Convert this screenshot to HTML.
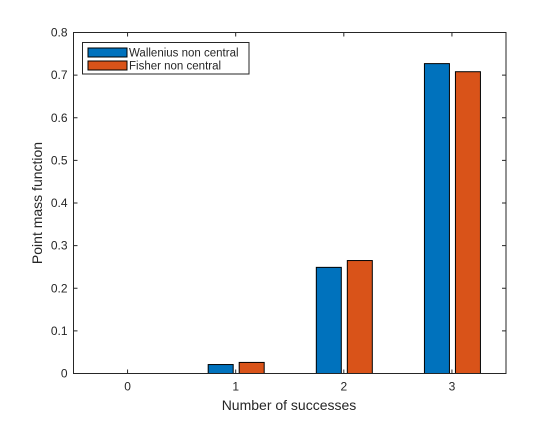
<!DOCTYPE html>
<html><head><meta charset="utf-8"><style>
body{margin:0;background:#fff}
text{font-family:"Liberation Sans",sans-serif;fill:#262626}
</style></head><body>
<svg width="560" height="420">
<rect width="560" height="420" fill="#fff"/>
<g id="plot"></g>
<rect x="73.5" y="32.5" width="432.5" height="341" fill="none" stroke="#262626" stroke-width="1"/>
<text x="289" y="410" font-size="14" text-anchor="middle">Number of successes</text>
<text transform="translate(42,203) rotate(-90)" font-size="14" text-anchor="middle">Point mass function</text>
<g>
<rect x="82.5" y="42.5" width="166.5" height="31.5" fill="#fff" stroke="#262626"/>
<rect x="88" y="48" width="39" height="9" fill="#0072BD" stroke="#000"/>
<text x="129" y="56.5" font-size="11.5">Wallenius non central</text>
<rect x="88" y="61" width="39" height="9" fill="#D95319" stroke="#000"/>
<text x="129" y="69.5" font-size="11.5">Fisher non central</text>
</g>
</svg>
<script>
const categories=[0,1,2,3];
const wallenius=[0,0.021,0.249,0.727];
const fisher=[0,0.026,0.265,0.708];
const yTicks=[0,0.1,0.2,0.3,0.4,0.5,0.6,0.7,0.8];
const yTickLabels=["0","0.1","0.2","0.3","0.4","0.5","0.6","0.7","0.8"];
const L=73.5,R=506,T=32.5,B=373.5;
const xs=v=>L+(v+0.5)/4*(R-L);
const ys=v=>B-v/0.8*(B-T);
const g=document.getElementById('plot');
const NS='http://www.w3.org/2000/svg';
function mk(t,a){const e=document.createElementNS(NS,t);for(const k in a)e.setAttribute(k,a[k]);g.appendChild(e);return e;}
const series=[[wallenius,'#0072BD',-15,'bar-wallenius'],[fisher,'#D95319',16,'bar-fisher']];
categories.forEach((c,i)=>{
 series.forEach(s=>{
  const v=s[0][i];if(v<=0)return;
  const cx=xs(c)+s[2];
  const r=mk('rect',{x:cx-12.5,y:ys(v),width:25,height:ys(0)-ys(v),fill:s[1],stroke:'#000','stroke-width':1});
  
  
 });
 const x=xs(c);
 const t1=mk('line',{x1:x,x2:x,y1:B,y2:B-4,stroke:'#262626'});
 
 
 const t2=mk('line',{x1:x,x2:x,y1:T,y2:T+4,stroke:'#262626'});
 
 
 const lb=mk('text',{x:x,y:B+17,'font-size':12,'text-anchor':'middle'});
 lb.textContent=String(c);
 
 
});
yTicks.forEach((v,i)=>{
 const y=ys(v);
 const a=mk('line',{x1:L,x2:L+4,y1:y,y2:y,stroke:'#262626'});
 
 
 const b=mk('line',{x1:R-4,x2:R,y1:y,y2:y,stroke:'#262626'});
 
 
 const lb=mk('text',{x:L-6,y:y+4,'font-size':12,'text-anchor':'end'});
 lb.textContent=yTickLabels[i];
 
 
});
</script>
</body></html>
